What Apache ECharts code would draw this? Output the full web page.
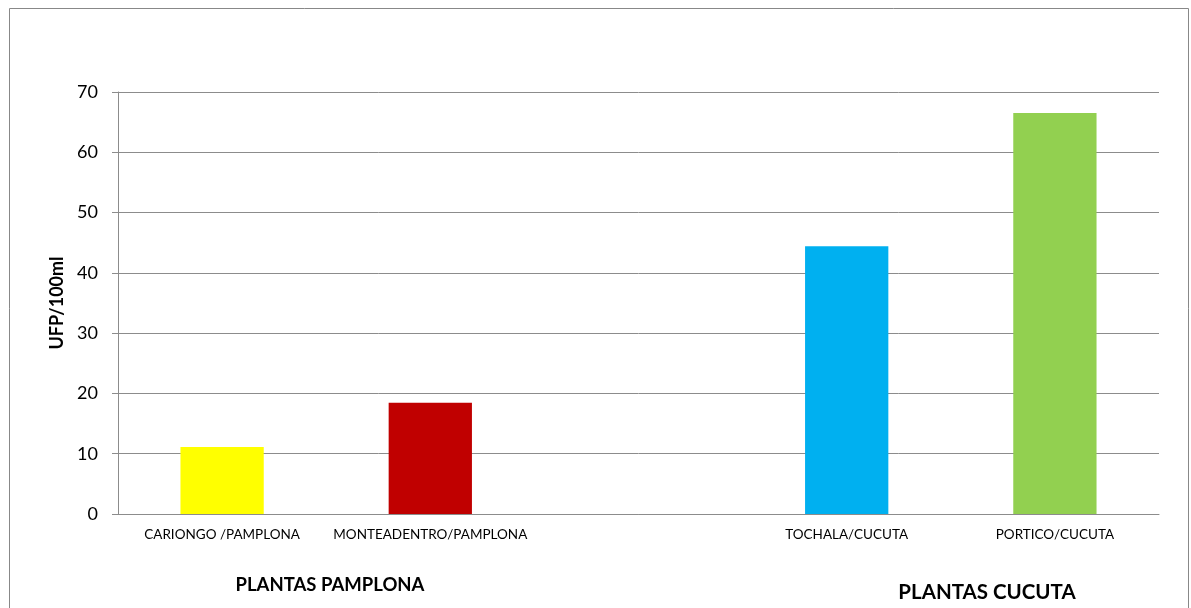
<!DOCTYPE html>
<html>
<head>
<meta charset="utf-8">
<script src="https://cdn.jsdelivr.net/npm/echarts@6/dist/echarts.min.js"></script>
<style>
html,body{margin:0;padding:0;background:#fff;}
#c{width:1191px;height:608px;}
</style>
</head>
<body>
<div id="c"></div>
<script>
const categories = ['CARIONGO /PAMPLONA', 'MONTEADENTRO/PAMPLONA', '', 'TOCHALA/CUCUTA', 'PORTICO/CUCUTA'];
const values = [11.1, 18.45, null, 44.4, 66.5];
const barColors = ['#FFFF00', '#C00000', '#FFFFFF', '#00B0F0', '#92D050'];
const yTicks = { min: 0, max: 70, interval: 10 };
const yName = 'UFP/100ml';
const groupLabels = ['PLANTAS PAMPLONA', 'PLANTAS CUCUTA'];

const FONT = 'Lato, "Open Sans", sans-serif';
const chart = echarts.init(document.getElementById('c'));
chart.setOption({
  animation: false,
  backgroundColor: '#fff',
  grid: { left: 118, right: 32, top: 92, bottom: 94, containLabel: false },
  xAxis: {
    type: 'category',
    data: categories,
    axisLine: { lineStyle: { color: '#8c8c8c', width: 1 } },
    axisTick: { show: false },
    axisLabel: { color: '#000', fontSize: 13.5, fontFamily: FONT, margin: 14, interval: 0 }
  },
  yAxis: {
    type: 'value',
    min: yTicks.min, max: yTicks.max, interval: yTicks.interval,
    name: yName,
    nameLocation: 'middle',
    nameRotate: 90,
    nameGap: 52,
    nameTextStyle: { color: '#000', fontSize: 18, fontWeight: 'bold', fontFamily: FONT },
    axisLine: { show: true, lineStyle: { color: '#8c8c8c', width: 1 } },
    axisTick: { show: true, inside: false, length: 6, lineStyle: { color: '#8c8c8c' } },
    axisLabel: { color: '#000', fontSize: 18, fontFamily: FONT, margin: 20 },
    splitLine: { show: true, lineStyle: { color: '#8c8c8c', width: 1 } }
  },
  series: [{
    type: 'bar',
    barWidth: '40%',
    data: values.map((v, i) => ({ value: v, itemStyle: { color: barColors[i] } }))
  }],
  graphic: [
    { type: 'rect', silent: true, shape: { x: 9.5, y: 8.5, width: 1179, height: 700 },
      style: { fill: 'none', stroke: '#888', lineWidth: 1 } },
    { type: 'text', x: 330, y: 585, style: { text: groupLabels[0], fill: '#000', font: 'bold 18.5px ' + FONT, textAlign: 'center', textVerticalAlign: 'middle' } },
    { type: 'text', x: 987, y: 592, style: { text: groupLabels[1], fill: '#000', font: 'bold 20.5px ' + FONT, textAlign: 'center', textVerticalAlign: 'middle' } }
  ]
});
</script>
</body>
</html>
